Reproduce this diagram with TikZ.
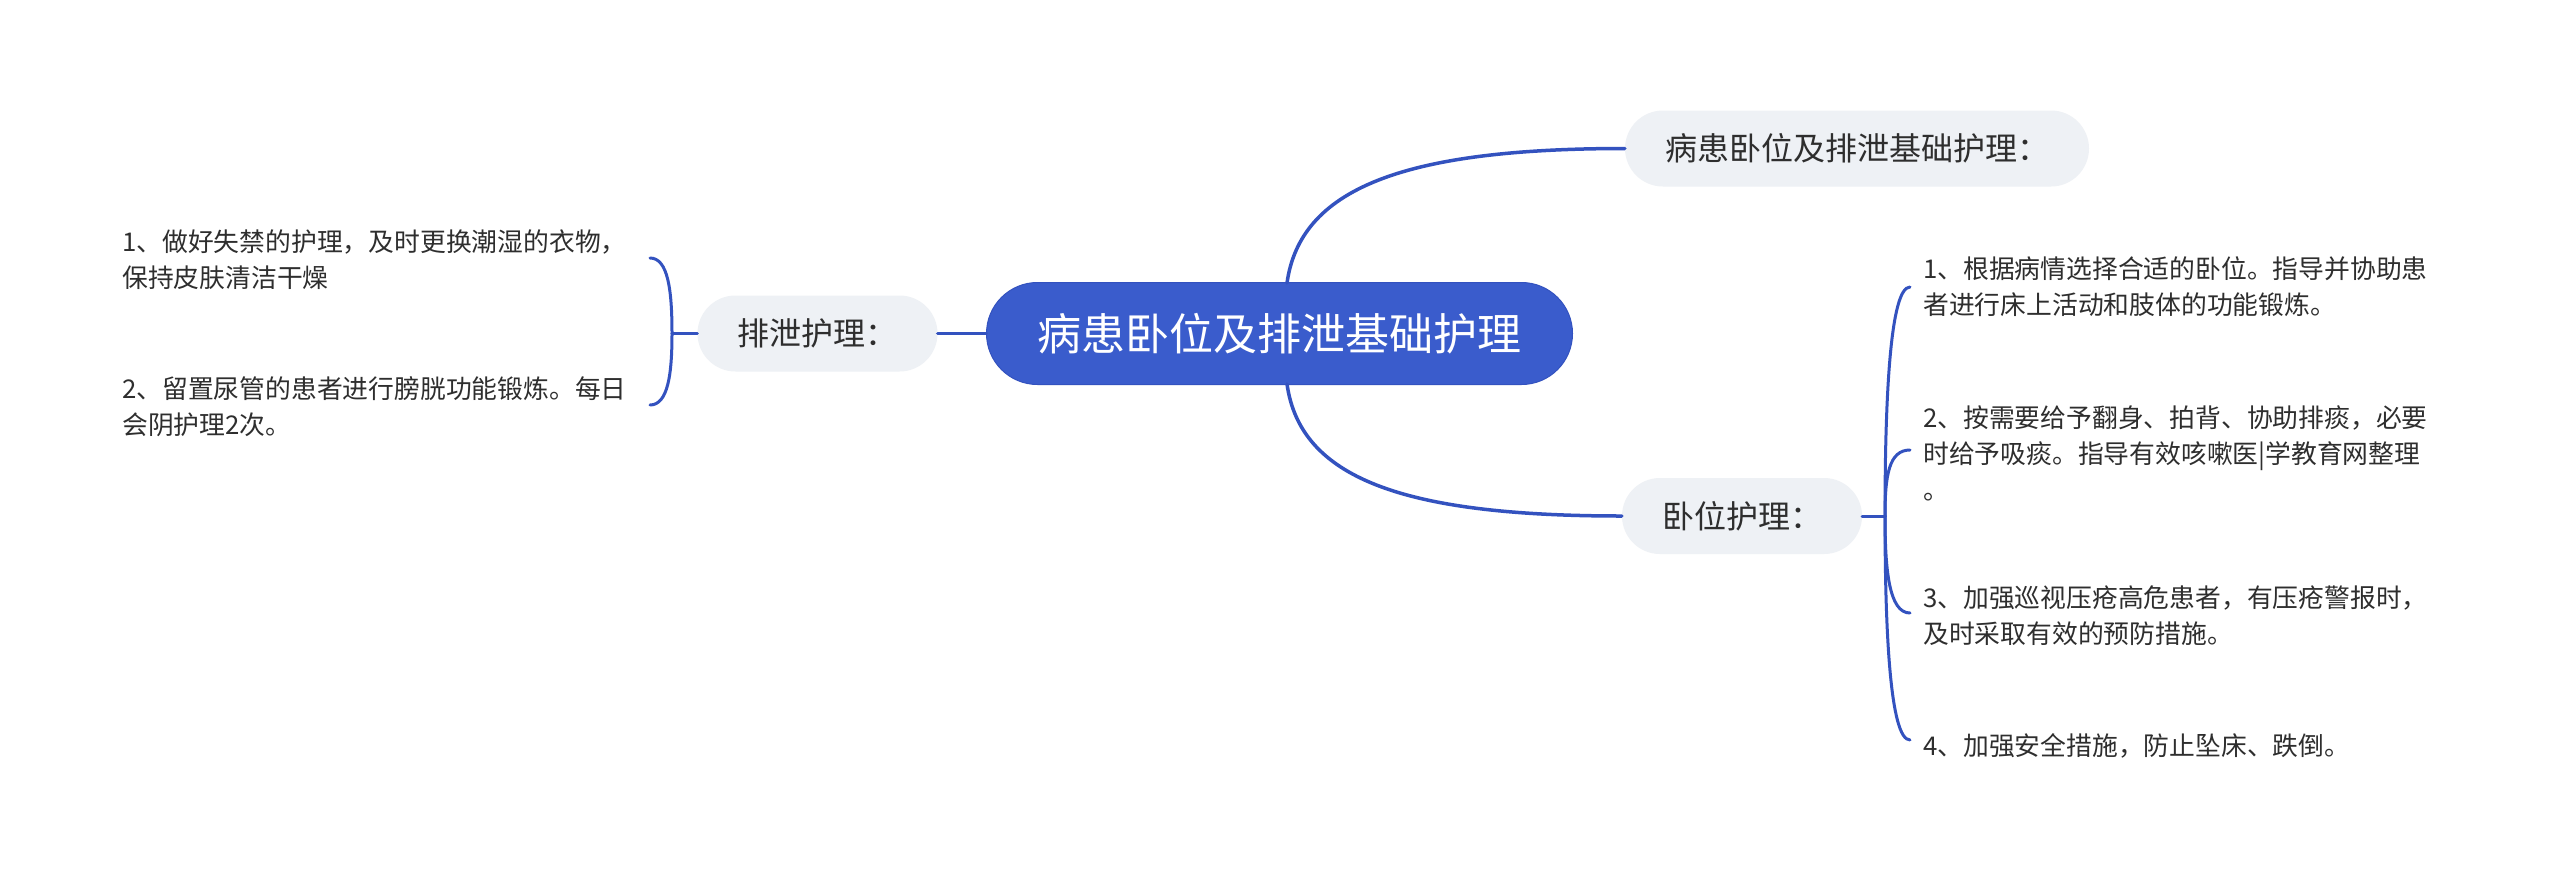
\documentclass[tikz,border=0pt]{standalone}
\usepackage{fontspec}
\setmainfont{Noto Sans CJK SC}
\usetikzlibrary{calc}
\definecolor{rootblue}{HTML}{3A5CCC}
\definecolor{rootedge}{HTML}{3352BF}
\definecolor{linkblue}{HTML}{3352BF}
\definecolor{subfill}{HTML}{EEF1F5}
\definecolor{txt}{HTML}{2E2E2E}
\begin{document}
\begin{tikzpicture}[x=1pt,y=-1pt,
  rootbox/.style={fill=rootblue,draw=rootedge,line width=1pt,rounded corners=51pt,
    minimum height=102pt,inner xsep=51pt,inner ysep=0pt,text=white,
    font=\fontsize{44}{52}\selectfont},
  subbox/.style={fill=subfill,rounded corners=38pt,minimum height=76pt,
    inner xsep=40pt,inner ysep=0pt,text=txt,font=\fontsize{32}{40}\selectfont},
  leaf/.style={inner sep=0pt,align=left,text=txt,anchor=west,
    font=\fontsize{25.8}{36}\selectfont},
  link/.style={draw=linkblue,line width=3pt,line cap=round},
  mainlink/.style={draw=linkblue,line width=3.5pt,line cap=round}]
\useasboundingbox (0,0) rectangle (2560,884);
\fill[white] (0,0) rectangle (2560,884);

\node[rootbox] (root) at (1279.5,333.5) {病患卧位及排泄基础护理};
\node[subbox] (top) at (1857,148.5) {病患卧位及排泄基础护理：};
\node[subbox] (wo) at (1742,516) {卧位护理：};
\node[subbox] (pai) at (817.5,333.5) {排泄护理：};

\node[leaf] (l1) at (122,260) {1、做好失禁的护理，及时更换潮湿的衣物，\\保持皮肤清洁干燥};
\node[leaf] (l2) at (122,407) {2、留置尿管的患者进行膀胱功能锻炼。每日\\会阴护理2次。};

\node[leaf] (r1) at (1923,287) {1、根据病情选择合适的卧位。指导并协助患\\者进行床上活动和肢体的功能锻炼。};
\node[leaf] (r2) at (1923,453) {2、按需要给予翻身、拍背、协助排痰，必要\\时给予吸痰。指导有效咳嗽医|学教育网整理\\。};
\node[leaf] (r3) at (1923,616) {3、加强巡视压疮高危患者，有压疮警报时，\\及时采取有效的预防措施。};
\node[leaf] (r4) at (1923,746) {4、加强安全措施，防止坠床、跌倒。};

% main branches
\coordinate (rtop) at (1287,283);
\coordinate (rbot) at (1287,384);
\draw[mainlink] (rtop) .. controls (1300,190) and (1400,148.5) .. (top.west);
\draw[mainlink] (rbot) .. controls (1300,477) and (1400,516) .. (wo.west);
\draw[mainlink] (root.west) -- (pai.east);

% left bracket
\coordinate (lj) at (672,333.5);
\coordinate (l1e) at (650,258);
\coordinate (l2e) at (650,405);
\draw[link] (pai.west) -- (lj);
\draw[link] (lj) .. controls (672,290) and (668,258) .. (l1e);
\draw[link] (lj) .. controls (672,374) and (668,405) .. (l2e);

% right bracket
\coordinate (rj) at (1885,516);
\coordinate (r1e) at (1910,287);
\coordinate (r2e) at (1910,450);
\coordinate (r3e) at (1910,613);
\coordinate (r4e) at (1910,740);
\draw[link] (wo.east) -- (rj);
\draw[link] (rj) .. controls (1885,400) and (1890,287) .. (r1e);
\draw[link] (rj) .. controls (1885,475) and (1889,450) .. (r2e);
\draw[link] (rj) .. controls (1885,570) and (1889,613) .. (r3e);
\draw[link] (rj) .. controls (1885,630) and (1890,740) .. (r4e);
\end{tikzpicture}
\end{document}
